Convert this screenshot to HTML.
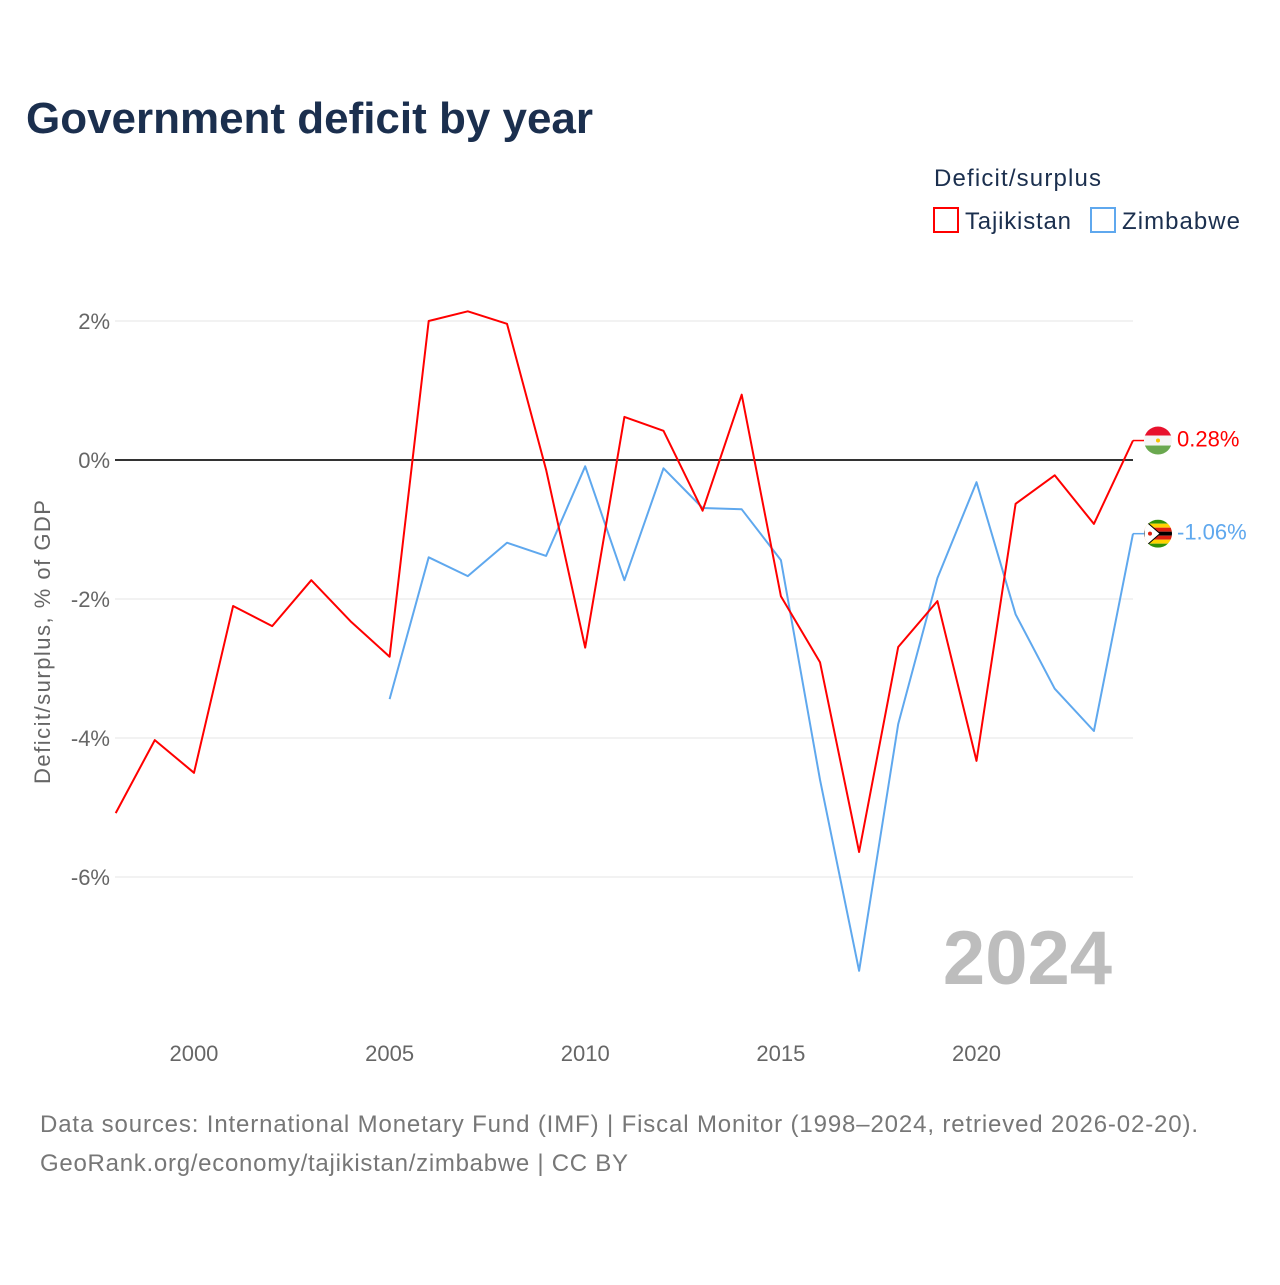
<!DOCTYPE html>
<html><head><meta charset="utf-8"><style>
body{margin:0;background:#fff;font-family:"Liberation Sans",sans-serif;}
svg text{font-family:"Liberation Sans",sans-serif;}
</style></head><body>
<svg width="1280" height="1280" viewBox="0 0 1280 1280" xmlns="http://www.w3.org/2000/svg" id="chart">
<text x="26" y="133" font-size="44" font-weight="bold" fill="#1b2f4e" textLength="567">Government deficit by year</text>
<text x="934" y="186" font-size="24" fill="#1b2f4e" textLength="167">Deficit/surplus</text>
<g><rect x="934" y="208" width="24" height="24" fill="none" stroke="#f00" stroke-width="2"/><text x="965" y="229" font-size="24" fill="#1b2f4e" textLength="106">Tajikistan</text></g>
<g><rect x="1091" y="208" width="24" height="24" fill="none" stroke="#5fa8ee" stroke-width="2"/><text x="1122" y="229" font-size="24" fill="#1b2f4e" textLength="118">Zimbabwe</text></g>
<g id="grid"></g>
<g id="xaxis"></g>
<text transform="translate(50,642) rotate(-90)" text-anchor="middle" font-size="22" fill="#666" textLength="284">Deficit/surplus, % of GDP</text>
<text x="1112" y="984" text-anchor="end" font-size="76" font-weight="bold" fill="#bdbdbd">2024</text>
<g id="series"></g>
<text x="40" y="1132" font-size="24" fill="#777" textLength="1158">Data sources: International Monetary Fund (IMF) | Fiscal Monitor (1998–2024, retrieved 2026-02-20).</text>
<text x="40" y="1171" font-size="24" fill="#777" textLength="588">GeoRank.org/economy/tajikistan/zimbabwe | CC BY</text>
</svg>
<script>
const years=[1998,1999,2000,2001,2002,2003,2004,2005,2006,2007,2008,2009,2010,2011,2012,2013,2014,2015,2016,2017,2018,2019,2020,2021,2022,2023,2024];
const tajikistan=[-5.08,-4.03,-4.50,-2.10,-2.39,-1.73,-2.32,-2.83,2.00,2.14,1.96,-0.14,-2.70,0.62,0.42,-0.73,0.94,-1.96,-2.91,-5.64,-2.69,-2.03,-4.33,-0.63,-0.22,-0.92,0.28];
const zimbabwe=[null,null,null,null,null,null,null,-3.44,-1.40,-1.67,-1.19,-1.38,-0.09,-1.73,-0.12,-0.69,-0.71,-1.44,-4.60,-7.35,-3.80,-1.70,-0.32,-2.22,-3.29,-3.90,-1.06];
const yTicks=[2,0,-2,-4,-6];
const xTicks=[2000,2005,2010,2015,2020];
const NS="http://www.w3.org/2000/svg";
const X=y=>115.7+(y-1998)*(1133-115.7)/26;
const Y=v=>460-v*69.5;
function mk(t,a,p){const e=document.createElementNS(NS,t);for(const k in a)e.setAttribute(k,a[k]);p.appendChild(e);return e;}
const grid=document.getElementById('grid');
yTicks.forEach(v=>{
 const l=mk('line',{x1:115,x2:1133,y1:Y(v),y2:Y(v),stroke:v===0?'#333':'#e6e6e6','stroke-width':v===0?2:1},grid);
 
 
 const t=mk('text',{x:110,y:Y(v)+8,'text-anchor':'end','font-size':22,fill:'#666'},grid);
 t.textContent=v+'%';
 
 
});
const xa=document.getElementById('xaxis');
xTicks.forEach(v=>{
 const t=mk('text',{x:X(v),y:1061,'text-anchor':'middle','font-size':22,fill:'#666'},xa);
 t.textContent=v;
 
 
});
const sg=document.getElementById('series');
const defs=mk('defs',{},document.getElementById('chart'));
function flag(name,cx,cy){
 const cp=mk('clipPath',{id:'cp-'+name},defs);
 mk('circle',{cx:cx,cy:cy,r:14},cp);
 const g=mk('g',{'clip-path':'url(#cp-'+name+')'},sg);
 
 
 const x0=cx-14,y0=cy-14;
 if(name==='tajikistan'){
  mk('rect',{x:x0,y:y0,width:28,height:9,fill:'#e8112d'},g);
  mk('rect',{x:x0,y:y0+9,width:28,height:10,fill:'#f5f5f5'},g);
  mk('rect',{x:x0,y:y0+19,width:28,height:9,fill:'#6aa84f'},g);
  mk('circle',{cx:cx,cy:cy,r:2,fill:'#f8c300'},g);
 } else {
  const cols=['#319208','#ffd200','#de2010','#000','#de2010','#ffd200','#319208'];
  cols.forEach((c,i)=>mk('rect',{x:x0,y:y0+i*4,width:28,height:4,fill:c},g));
  mk('path',{d:`M${x0},${y0} L${cx+2},${cy} L${x0},${y0+28}Z`,fill:'#fff',stroke:'#000','stroke-width':1},g);
  mk('circle',{cx:x0+6,cy:cy,r:2,fill:'#de2010'},g);
 }
}
function draw(vals,color,name,label){
 let d='';vals.forEach((v,i)=>{if(v===null)return;d+=(d?'L':'M')+X(years[i]).toFixed(1)+','+Y(v).toFixed(1);});
 const p=mk('path',{d:d,fill:'none',stroke:color,'stroke-width':2,'stroke-linejoin':'round'},sg);
 
 
 const last=vals[vals.length-1],lx=X(years[years.length-1]),ly=Y(last);
 mk('line',{x1:lx,x2:lx+11,y1:ly,y2:ly,stroke:color,'stroke-width':1.5},sg);
 flag(name,lx+25,ly);
 const t=mk('text',{x:lx+44,y:ly+6,'font-size':22,fill:color},sg);
 t.textContent=label;
 
 
}
draw(zimbabwe,'#5fa8ee','zimbabwe',zimbabwe[zimbabwe.length-1].toFixed(2)+'%');
draw(tajikistan,'#f00','tajikistan',tajikistan[tajikistan.length-1].toFixed(2)+'%');
</script>
</body></html>
